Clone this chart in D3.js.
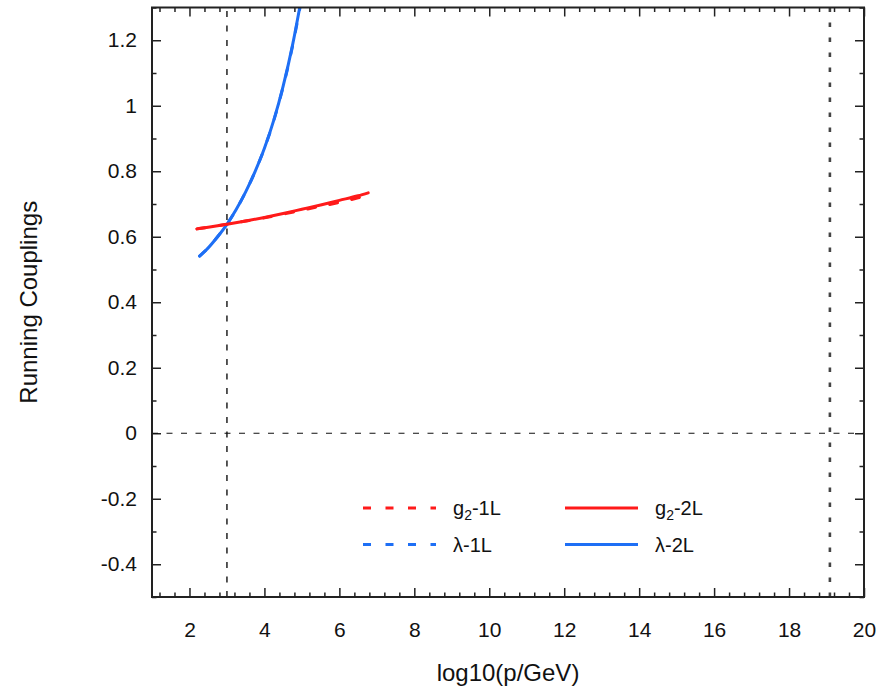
<!DOCTYPE html>
<html>
<head>
<meta charset="utf-8">
<script src="https://cdn.jsdelivr.net/npm/d3@7"></script>
<style>
  html, body { margin: 0; padding: 0; background: #fff; }
  svg { display: block; font-family: "Liberation Sans", Arial, Helvetica, sans-serif; }
</style>
</head>
<body>
<svg id="chart" width="892" height="689"></svg>
<script>
// Running couplings vs. log10 of the momentum scale
const g2_1L_x = [2.2, 2.5, 3.0, 3.5, 4.0, 4.5, 5.0, 5.5, 6.0, 6.5, 6.7];
const g2_1L_y = [0.624, 0.629, 0.638, 0.648, 0.658, 0.669, 0.681, 0.693, 0.705, 0.719, 0.725];

const g2_2L_x = [2.2, 2.5, 3.0, 3.5, 4.0, 4.5, 5.0, 5.5, 6.0, 6.5, 6.77];
const g2_2L_y = [0.624, 0.629, 0.638, 0.648, 0.659, 0.671, 0.684, 0.697, 0.711, 0.725, 0.734];

const lam_1L_x = [2.27, 2.5, 2.75, 3.0, 3.25, 3.5, 3.75, 4.0, 4.25, 4.5, 4.75, 4.95];
const lam_1L_y = [0.541, 0.566, 0.600, 0.638, 0.684, 0.737, 0.799, 0.870, 0.955, 1.058, 1.182, 1.300];

const lam_2L_x = [2.27, 2.5, 2.75, 3.0, 3.25, 3.5, 3.75, 4.0, 4.25, 4.5, 4.75, 4.95];
const lam_2L_y = [0.541, 0.566, 0.600, 0.638, 0.684, 0.737, 0.799, 0.870, 0.956, 1.060, 1.185, 1.305];

const xTickValues = [2, 4, 6, 8, 10, 12, 14, 16, 18, 20];
const yTickValues = [-0.4, -0.2, 0, 0.2, 0.4, 0.6, 0.8, 1, 1.2];
const yTickLabels = ["-0.4", "-0.2", "0", "0.2", "0.4", "0.6", "0.8", "1", "1.2"];

// reference markers: electroweak scale and Planck scale
const vLines = [3, 19.09];
const hLines = [0];

const legendItems = [
  { base: "g", sub: "2", rest: "-1L", color: "#ff1a1a", dashed: true },
  { base: "\u03bb", sub: "", rest: "-1L", color: "#1e6ff5", dashed: true },
  { base: "g", sub: "2", rest: "-2L", color: "#ff1a1a", dashed: false },
  { base: "\u03bb", sub: "", rest: "-2L", color: "#1e6ff5", dashed: false }
];

const svg = d3.select("#chart");
const plotL = 152, plotR = 864, plotT = 7.5, plotB = 597;

const x = d3.scaleLinear().domain([1, 20]).range([plotL, plotR]);
const y = d3.scaleLinear().domain([-0.5, 1.3]).range([plotB, plotT]);

svg.append("defs").append("clipPath").attr("id", "plotclip")
  .append("rect").attr("x", plotL).attr("y", plotT)
  .attr("width", plotR - plotL).attr("height", plotB - plotT);

const axisColor = "#222";

// minor ticks
const xMinor = d3.range(1.2, 20, 0.4).filter(v => Math.abs(v / 2 - Math.round(v / 2)) > 1e-6);
const yMinor = d3.range(-0.5, 1.31, 0.1).map(v => +v.toFixed(2)).filter(v => Math.abs(v * 5 - Math.round(v * 5)) > 1e-6);

function styleAxis(g) {
  g.select(".domain").remove();
  g.selectAll(".tick line").attr("stroke", axisColor).attr("stroke-width", 1.5);
}

// bottom / top axes (ticks inward)
svg.append("g").attr("transform", `translate(0,${plotB})`)
  .call(d3.axisBottom(x).tickValues(xTickValues).tickSize(-9).tickFormat(d3.format("d")))
  .call(styleAxis)
  .call(g => g.selectAll("text").attr("font-size", 21).attr("fill", "#111").attr("dy", "0.71em").attr("y", 25));
svg.append("g").attr("transform", `translate(0,${plotB})`)
  .call(d3.axisBottom(x).tickValues(xMinor).tickSize(-4.5).tickFormat(""))
  .call(styleAxis);
svg.append("g").attr("transform", `translate(0,${plotT})`)
  .call(d3.axisTop(x).tickValues(xTickValues).tickSize(-9).tickFormat(""))
  .call(styleAxis);
svg.append("g").attr("transform", `translate(0,${plotT})`)
  .call(d3.axisTop(x).tickValues(xMinor).tickSize(-4.5).tickFormat(""))
  .call(styleAxis);

// left / right axes
svg.append("g").attr("transform", `translate(${plotL},0)`)
  .call(d3.axisLeft(y).tickValues(yTickValues).tickSize(-9)
    .tickFormat((d, i) => yTickLabels[i]))
  .call(styleAxis)
  .call(g => g.selectAll("text").attr("font-size", 21).attr("fill", "#111").attr("x", -15));
svg.append("g").attr("transform", `translate(${plotL},0)`)
  .call(d3.axisLeft(y).tickValues(yMinor).tickSize(-4.5).tickFormat(""))
  .call(styleAxis);
svg.append("g").attr("transform", `translate(${plotR},0)`)
  .call(d3.axisRight(y).tickValues(yTickValues).tickSize(-9).tickFormat(""))
  .call(styleAxis);
svg.append("g").attr("transform", `translate(${plotR},0)`)
  .call(d3.axisRight(y).tickValues(yMinor).tickSize(-4.5).tickFormat(""))
  .call(styleAxis);

// reference lines
svg.append("g").selectAll("line").data(hLines).join("line")
  .attr("x1", plotL).attr("x2", plotR)
  .attr("y1", d => y(d)).attr("y2", d => y(d))
  .attr("stroke", "#111").attr("stroke-width", 1.2).attr("stroke-dasharray", "6,8.5");
svg.append("g").selectAll("line").data(vLines).join("line")
  .attr("x1", d => x(d)).attr("x2", d => x(d))
  .attr("y1", plotB).attr("y2", plotT)
  .attr("stroke", (d, i) => i === 0 ? "#111" : "#444")
  .attr("stroke-width", (d, i) => i === 0 ? 1.4 : 2.6)
  .attr("stroke-dasharray", (d, i) => i === 0 ? "6,8.5" : "4.5,10.5");

// curves
const line = d3.line().x(d => x(d[0])).y(d => y(d[1])).curve(d3.curveMonotoneX);
const series = [
  { xs: lam_1L_x, ys: lam_1L_y, color: "#1e6ff5", dash: "8,14.5" },
  { xs: g2_1L_x, ys: g2_1L_y, color: "#ff1a1a", dash: "8,14.5" },
  { xs: lam_2L_x, ys: lam_2L_y, color: "#1e6ff5", dash: null },
  { xs: g2_2L_x, ys: g2_2L_y, color: "#ff1a1a", dash: null }
];
const curves = svg.append("g").attr("clip-path", "url(#plotclip)");
series.forEach(s => {
  curves.append("path")
    .datum(s.xs.map((v, i) => [v, s.ys[i]]))
    .attr("d", line)
    .attr("fill", "none")
    .attr("stroke", s.color)
    .attr("stroke-width", 3)
    .attr("stroke-linecap", "round")
    .attr("stroke-dasharray", s.dash);
});

// frame
svg.append("rect").attr("x", plotL).attr("y", plotT)
  .attr("width", plotR - plotL).attr("height", plotB - plotT)
  .attr("fill", "none").attr("stroke", axisColor).attr("stroke-width", 2);

// legend
const legPos = [
  { lx: 363, tx: 453, ly: 508 },
  { lx: 363, tx: 453, ly: 544.5 },
  { lx: 565, tx: 655, ly: 508 },
  { lx: 565, tx: 655, ly: 544.5 }
];
const leg = svg.append("g");
legendItems.forEach((d, i) => {
  const p = legPos[i];
  leg.append("line")
    .attr("x1", p.lx).attr("x2", p.lx + 73)
    .attr("y1", p.ly).attr("y2", p.ly)
    .attr("stroke", d.color).attr("stroke-width", 3)
    .attr("stroke-dasharray", d.dashed ? "8,14.5" : null);
  const t = leg.append("text").attr("x", p.tx).attr("y", p.ly + 7)
    .attr("font-size", 20).attr("fill", "#111");
  t.append("tspan").text(d.base);
  if (d.sub) t.append("tspan").attr("dy", 5).attr("font-size", 14).text(d.sub);
  t.append("tspan").attr("dy", d.sub ? -5 : 0).text(d.rest);
});

// axis titles
svg.append("text").attr("x", (plotL + plotR) / 2).attr("y", 681)
  .attr("text-anchor", "middle").attr("font-size", 24).attr("fill", "#111")
  .text("log10(p/GeV)");
svg.append("text")
  .attr("transform", `translate(37,${(plotT + plotB) / 2}) rotate(-90)`)
  .attr("text-anchor", "middle").attr("font-size", 24).attr("fill", "#111")
  .text("Running Couplings");
</script>
</body>
</html>
